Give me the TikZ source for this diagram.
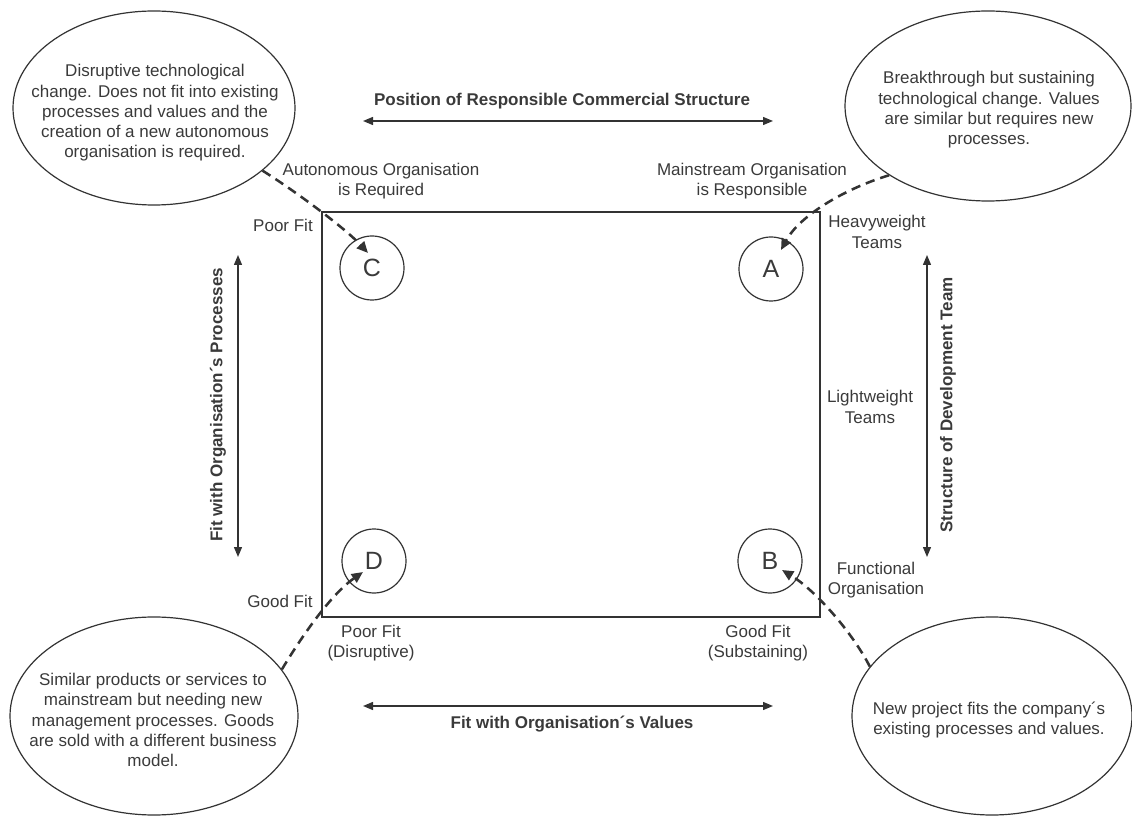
\documentclass[tikz,border=0pt]{standalone}
\usepackage{fontspec}
\setmainfont{Liberation Sans}
\usetikzlibrary{shapes.geometric,arrows.meta,calc}
\definecolor{ink}{RGB}{51,51,51}
\definecolor{txt}{RGB}{58,58,58}

\begin{document}
\begin{tikzpicture}[x=0.75pt,y=-0.75pt,
  lbl/.style={font=\fontsize{12.75}{15.2}\selectfont, align=center, inner sep=0pt, text=txt},
  axislabel/.style={font=\fontsize{12.75}{15.2}\selectfont\bfseries, inner sep=0pt, text=txt},
  bubble/.style={draw=ink, line width=0.9pt, ellipse, inner sep=0pt},
  quadrant/.style={draw=ink, line width=0.9pt, circle, minimum size=48pt, inner sep=0pt,
                   text=txt, font=\fontsize{18.75}{20}\selectfont},
  dblarrow/.style={draw=ink, line width=1pt,
                   {Triangle[length=7.5pt,width=6pt]}-{Triangle[length=7.5pt,width=6pt]}},
  calllink/.style={draw=ink, line width=1.9pt, dash pattern=on 7pt off 4.5pt,
                   -{Triangle[length=8.5pt,width=7.5pt]}},
]
\useasboundingbox (0,0) rectangle (1132,816);

% central matrix
\draw[ink, line width=1.2pt] (322,212) rectangle (820,617);

% quadrant markers
\node[quadrant] (C) at (372,268) {C};
\node[quadrant] (A) at (771,269) {A};
\node[quadrant] (D) at (374,561) {D};
\node[quadrant] (B) at (770,561) {B};

% explanatory bubbles
\node[bubble, minimum width=211.5pt, minimum height=145.5pt] (tl) at (154,108) {};
\node[bubble, minimum width=214.5pt, minimum height=142.5pt] (tr) at (988,106) {};
\node[bubble, minimum width=216pt, minimum height=148.5pt] (bl) at (154,716) {};
\node[bubble, minimum width=210pt, minimum height=148.5pt] (br) at (992,716) {};

\node[lbl] (tltext) at (155,113) {Disruptive technological\\change. Does not fit into existing\\processes and values and the\\creation of a new autonomous\\organisation is required.};
\node[lbl] (trtext) at (989,110) {Breakthrough but sustaining\\technological change. Values\\are similar but requires new\\processes.};
\node[lbl] (bltext) at (153,720) {Similar products or services to\\mainstream but needing new\\management processes. Goods\\are sold with a different business\\model.};
\node[lbl] (brtext) at (989,720) {New project fits the company´s\\existing processes and values.};

% axis arrows
\coordinate (topL) at (363,121);
\coordinate (topR) at (773,121);
\coordinate (botL) at (363,706);
\coordinate (botR) at (773,706);
\coordinate (lftT) at (238,255);
\coordinate (lftB) at (238,557);
\coordinate (rgtT) at (927,255);
\coordinate (rgtB) at (927,557);
\draw[dblarrow] (topL) -- (topR);
\draw[dblarrow] (botL) -- (botR);
\draw[dblarrow] (lftT) -- (lftB);
\draw[dblarrow] (rgtT) -- (rgtB);

% axis titles
\node[axislabel] (toptitle) at (562,101) {Position of Responsible Commercial Structure};
\node[axislabel] (bottitle) at (572,724) {Fit with Organisation´s Values};
\node[axislabel, rotate=90] (lfttitle) at (218,405) {Fit with Organisation´s Processes};
\node[axislabel, rotate=90] (rgttitle) at (948,405) {Structure of Development Team};

% scale labels
\node[lbl] (auto) at (381,181) {Autonomous Organisation\\is Required};
\node[lbl] (main) at (752,181) {Mainstream Organisation\\is Responsible};
\node[lbl] (poortop) at (283,225) {Poor Fit};
\node[lbl] (goodleft) at (280,601) {Good Fit};
\node[lbl] (heavy) at (877,232) {Heavyweight\\Teams};
\node[lbl] (light) at (870,407) {Lightweight\\Teams};
\node[lbl] (func) at (876,580) {Functional\\Organisation};
\node[lbl] (poorbot) at (371,643) {Poor Fit\\(Disruptive)};
\node[lbl] (goodbot) at (758,643) {Good Fit\\(Substaining)};

% dashed call-outs
\draw[calllink] (tl.-30) .. controls +(32,20) and +(-23,-25) .. ($(C)+(-4,-15)$);
\draw[calllink] (tr.215) .. controls +(-43,13) and +(19,-35) .. ($(A)+(10,-19)$);
\draw[calllink] (bl.20) .. controls +(18,-30) and +(-33,23) .. ($(D)+(-11,11)$);
\draw[calllink] (br.158) .. controls +(-18,-35) and +(33,20) .. ($(B)+(12,9)$);
\end{tikzpicture}
\end{document}
